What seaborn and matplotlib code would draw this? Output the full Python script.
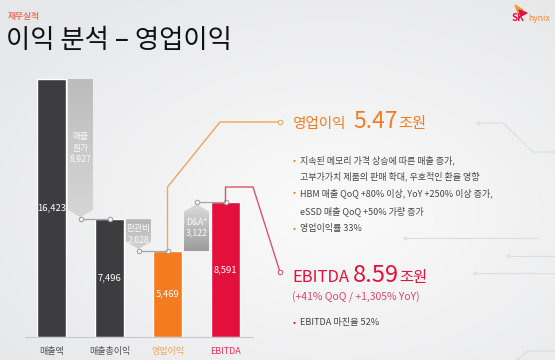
import numpy as np
import matplotlib.pyplot as plt
import seaborn as sns
from matplotlib.patches import Polygon
from matplotlib.colors import LinearSegmentedColormap

# values in 십억원
categories = ['매출액', '매출총이익', '영업이익', 'EBITDA']
values = [16423, 7496, 5469, 8591]
bridge_labels = ['매출\n원가', '판관비', 'D&A*']
bridge_values = [8927, 2028, 3122]

op_head = ['영업이익', '5.47', '조원']
op_bullets = [
    ['지속된 메모리 가격 상승에 따른 매출 증가,', '고부가가치 제품의 판매 확대, 우호적인 환율 영향'],
    ['HBM 매출 QoQ +80% 이상, YoY +250% 이상 증가,', 'eSSD 매출 QoQ +50% 가량 증가'],
    ['영업이익률 33%'],
]
ebitda_head = ['EBITDA', '8.59', '조원']
ebitda_sub = '(+41% QoQ / +1,305% YoY)'
ebitda_bullets = ['EBITDA 마진율 52%']

DARK = '#3d3d40'
ORANGE = '#f47b20'
RED = '#e3103b'
GRAY_TXT = '#464646'
bar_colors = [DARK, DARK, ORANGE, RED]
tick_colors = ['#505050', '#505050', '#f4a455', '#e0345a']
bridge_grads = [('#bcbcbc', '#d6d6d6'), ('#b4b4b4', '#d2d2d2'), ('#9c9c9c', '#dcdcdc')]

W, H = 555, 360
SCALE = 258 / 16423  # pixels per unit
YMAX = 17000

sns.set_theme(style='white')
plt.rcParams['font.family'] = ['Noto Sans CJK KR', 'DejaVu Sans']

fig = plt.figure(figsize=(W / 100, H / 100), dpi=100)

# background gradient + faint decoration
bg = fig.add_axes([0, 0, 1, 1], zorder=0)
yy, xx = np.mgrid[0:H, 0:W]
r = np.hypot((xx - 330) / W, (yy - 210) / H)
bg.imshow(r, cmap=LinearSegmentedColormap.from_list('bg', ['#fbfbfb', '#e6e7e9']),
          extent=[0, W, H, 0], vmin=0, vmax=0.75, aspect='auto')
deco = [[(478, 123), (503, 123), (533, 152), (555, 152)],
        [(405, 238), (538, 238)],
        [(508, 256), (555, 256)],
        [(475, 273), (555, 273)],
        [(517, 360), (528, 351), (555, 351)]]
for seg in deco:
    xs, ys = zip(*seg)
    bg.plot(xs, ys, color='#dcdde0', lw=0.8)
    bg.plot(xs[0], ys[0], marker='o', ms=2, mfc='#f5f5f5', mec='#d5d6d8', mew=0.6)
bg.set_xlim(0, W)
bg.set_ylim(H, 0)
bg.axis('off')

# waterfall bars
ax = fig.add_axes([22.5 / W, 23 / H, 232 / W, YMAX * SCALE / H], zorder=1)
ax.patch.set_alpha(0)
sns.barplot(x=categories, y=values, hue=categories, palette=bar_colors, width=0.5,
            saturation=1, legend=False, ax=ax)

for i, v in enumerate(values):
    ax.text(i, v / 2, f'{v:,}', color='white', ha='center', va='center', fontsize=6.8,
            fontweight='medium', zorder=5)

w, gap, depth = 0.43, 130, 480
for i, (lab, amt) in enumerate(zip(bridge_labels, bridge_values)):
    start, end = values[i], values[i + 1]
    xc = i + 0.5
    l, rr = xc - w / 2, xc + w / 2
    sgn = 1 if end > start else -1
    tip = end - sgn * gap
    shoulder = tip - sgn * depth
    poly = Polygon([(l, start), (rr, start), (rr, shoulder), (xc, tip), (l, shoulder)],
                   closed=True, facecolor='none', edgecolor='none')
    ax.add_patch(poly)
    lo, hi = min(start, tip), max(start, tip)
    g = np.linspace(0, 1, 120)
    t = g if sgn > 0 else 1 - g
    cm = LinearSegmentedColormap.from_list(f'b{i}', bridge_grads[i])
    im = ax.imshow(t.reshape(-1, 1), cmap=cm, extent=[l, rr, lo, hi], origin='lower',
                   aspect='auto', vmin=0, vmax=1, zorder=2)
    im.set_clip_path(poly)
    ax.text(xc, (start + tip) / 2, f'{lab}\n{amt:,}', color='#fafafa', ha='center',
            va='center', fontsize=6.3, linespacing=1.3, zorder=5)
    ax.plot([xc, i + 1], [end, end], color='#a5a5a5', lw=0.9, marker='o', ms=3.2,
            mfc='white', mec='#a0a0a0', mew=0.8, clip_on=False, zorder=6)

ax.plot([-0.46, 3.47], [0, 0], color='#c8c8c8', lw=0.8, clip_on=False, zorder=3)
ax.set_xlim(-0.5, 3.5)
ax.set_ylim(0, YMAX)
sns.despine(ax=ax, left=True, bottom=True)
ax.set_yticks([])
ax.set_xlabel('')
ax.set_ylabel('')
ax.tick_params(axis='x', length=0, pad=7, labelsize=6.5)
for lab, c in zip(ax.get_xticklabels(), tick_colors):
    lab.set_color(c)

# overlay for text and call-out lines (pixel coords)
ov = fig.add_axes([0, 0, 1, 1], zorder=3)
ov.set_xlim(0, W)
ov.set_ylim(H, 0)
ov.axis('off')
ov.patch.set_alpha(0)
renderer = fig.canvas.get_renderer()


def to_px(x, y):
    dx, dy = ax.transData.transform((x, y))
    return dx, H - dy


def text_run(x, y, pieces, color):
    # pieces: (text, fontsize, gap after)
    for s, size, after in pieces:
        t = ov.text(x, y, s, color=color, fontsize=size, va='baseline', fontweight='medium')
        x += t.get_window_extent(renderer).width + after


x0, y0 = to_px(2, values[2])
ov.plot([x0, x0, 220, 280], [y0, 187, 122, 122], color='#f5a35c', lw=1.0)
ov.plot(280, 122, marker='o', ms=3.2, mfc='white', mec='#f5a35c', mew=0.8)
x1, y1 = to_px(3, values[3])
ov.plot([x1, x1, 253, 280], [y1, 187, 187, 272], color='#d9546c', lw=1.0)
ov.plot(280, 272, marker='o', ms=3.2, mfc='white', mec='#d9546c', mew=0.8)

# title
ov.text(8, 16, '재무실적', color='#e8776a', fontsize=6.3, fontweight='bold', va='center')
ov.text(6, 41, '이익 분석 – 영업이익', color='#111111', fontsize=19, fontweight='medium',
        va='center')

# logo
ov.add_patch(Polygon([(515, 5), (523, 10), (518, 13)], color='#f39a3a'))
ov.add_patch(Polygon([(519, 10), (527, 13), (521, 16)], color='#e3103b'))
ov.text(512, 21, 'SK', color='#e3103b', fontsize=7, fontweight='bold', va='baseline')
ov.text(528, 21, 'hynix', color='#f08a3c', fontsize=6.3, va='baseline')

# operating profit headline
text_run(292, 128, [(op_head[0], 10.5, 8), (op_head[1], 16.5, 0), (op_head[2], 11, 0)], ORANGE)

ys = iter([160, 176, 193, 211, 229])
for item in op_bullets:
    for k, line in enumerate(item):
        y = next(ys)
        if k == 0:
            ov.text(293, y, '•', color=ORANGE, fontsize=6.5, va='center')
        ov.text(300, y, line, color=GRAY_TXT, fontsize=6.5, va='center', fontweight='medium')

# EBITDA headline
text_run(292, 282, [(ebitda_head[0], 12, 4), (ebitda_head[1], 17, 0), (ebitda_head[2], 11, 0)], RED)
ov.text(292, 297, ebitda_sub, color='#d8486a', fontsize=7.5, va='center')
for k, line in enumerate(ebitda_bullets):
    y = 323 + 17 * k
    ov.text(293, y, '•', color=RED, fontsize=6.5, va='center')
    ov.text(300, y, line, color=GRAY_TXT, fontsize=6.6, va='center', fontweight='medium')

fig.savefig('out.png', dpi=100)
